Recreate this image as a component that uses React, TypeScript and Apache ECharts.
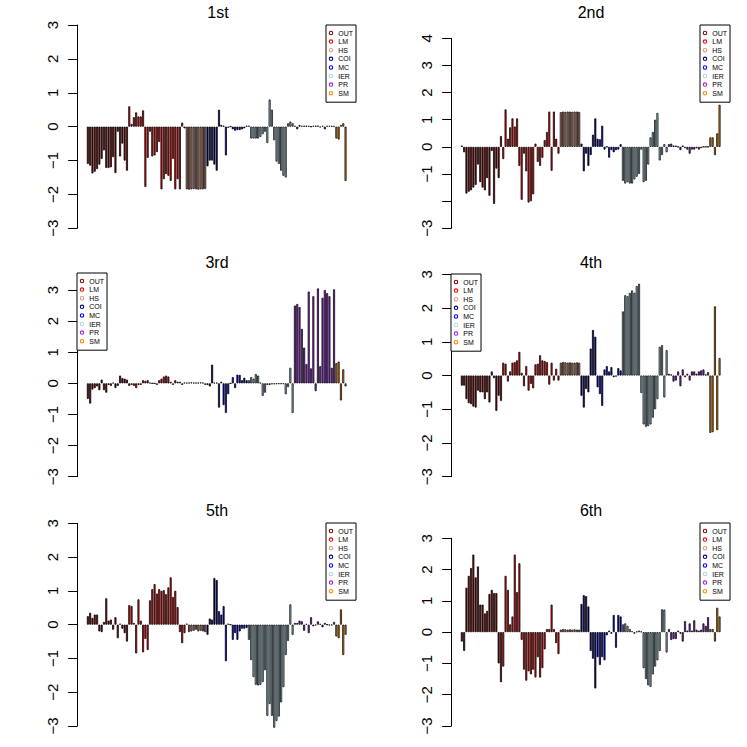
import React, { useEffect, useRef } from "react";
import * as echarts from "echarts";

const groupNames = ["OUT", "LM", "HS", "COI", "MC", "IER", "PR", "SM"];
const groupSizes = [18, 25, 9, 7, 11, 20, 18, 5];
const groupColors = ["#8B0000", "#FF0000", "#E9967A", "#00008B", "#0000FF", "#ADD8E6", "#A020F0", "#FF8C00"];
const panelTitles = ["1st", "2nd", "3rd", "4th", "5th", "6th"];
const panelMax = [3, 4, 3, 3, 3, 3];
const panelMin = [-3, -3, -3, -3, -3, -3];
const hiddenTicks: number[][] = [[], [-2], [], [], [], []];

const first = [
  // OUT
  -1.1, -1.15, -1.38, -1.33, -1.25, -1.12, -0.95, -0.7, -1.22, -1.22, -1.2, -0.9, -1.37, -0.15, -0.88, -0.5, -1.0, -1.3,
  // LM
  0.6, 0.08, 0.28, 0.42, 0.3, 0.3, 0.48, -1.78, -0.92, -0.15, -0.88, -0.85, -0.75, -0.45, -1.85, -1.55, -1.4, -1.45, -1.6, -0.95, -1.85, -1.55, -1.85, 0.12, -0.05,
  // HS
  -1.85, -1.86, -1.85, -1.84, -1.85, -1.86, -1.85, -1.85, -1.84,
  // COI
  -1.17, -1.0, -1.0, -1.12, -1.3, 0.5, 0.05,
  // MC
  0.03, -0.85, -0.03, 0.0, -0.08, -0.12, -0.1, -0.1, -0.08, -0.05, 0.03,
  // IER
  0.03, -0.35, -0.35, -0.35, -0.35, -0.3, -0.22, -0.15, -0.48, 0.8, 0.5, -0.4, -1.03, -1.1, -1.3, -1.45, -1.5, 0.1, 0.15, 0.1,
  // PR
  0.02, -0.08, 0.05, 0.02, 0.03, 0.03, 0.02, 0.0, 0.02, 0.03, 0.03, -0.02, 0.02, -0.08, 0.02, 0.02, 0.02, 0.02,
  // SM
  -0.35, -0.38, 0.05, 0.1, -1.6,
];

const second = [
  0.05, -0.2, -1.72, -1.65, -1.6, -1.5, -1.4, -0.65, -1.3, -1.5, -1.6, -1.15, -1.8, -0.15, -2.1, -0.8, -1.15, 0.4,
  -0.45, 1.38, 0.3, 0.72, 1.05, 0.75, 1.05, -0.7, -1.95, -0.25, -0.9, -2.05, -2.0, -1.75, 0.12, -0.55, -0.7, -0.4, 0.25, 0.55, 1.3, -0.88, 1.3, 0.3, -0.25,
  1.28, 1.3, 1.29, 1.3, 1.3, 1.29, 1.3, 1.3, 1.29,
  0.12, -0.9, -0.25, -0.7, -0.3, 0.45, 1.05,
  0.3, 0.28, 0.78, -0.1, 0.0, -0.4, -0.12, -0.2, -0.12, -0.1, 0.1,
  -1.25, -1.35, -1.3, -1.35, -1.35, -1.2, -1.1, -1.0, -0.1, -1.3, -1.25, -0.65, 0.35, 0.55, 1.0, 1.25, -0.5, -0.3, 0.1, -0.2,
  0.1, 0.12, 0.05, 0.05, 0.0, -0.12, 0.05, -0.05, -0.1, -0.25, -0.1, -0.1, -0.05, -0.1, -0.05, 0.0, 0.0, 0.0,
  0.35, 0.35, -0.3, 0.5, 1.55,
];

const third = [
  -0.5, -0.65, -0.2, -0.15, -0.1, -0.22, 0.12, -0.22, -0.3, -0.05, -0.08, 0.02, -0.15, -0.08, 0.25, 0.17, 0.15, 0.12,
  -0.08, -0.05, -0.08, -0.15, -0.05, -0.05, 0.1, 0.08, 0.1, 0.02, 0.0, 0.0, -0.05, 0.1, 0.15, 0.22, 0.25, 0.22, 0.05, -0.05, 0.1, 0.05, 0.05, -0.05, 0.02,
  0.02, 0.02, 0.03, 0.02, 0.02, 0.02, 0.03, 0.02, -0.05,
  -0.05, -0.1, 0.6, 0.02, 0.02, -0.78, 0.05,
  -0.7, -0.95, -0.35, 0.0, 0.2, -0.15, 0.28, 0.27, 0.1, 0.18, 0.1,
  0.1, 0.2, 0.15, 0.3, 0.25, 0.02, -0.4, -0.3, -0.05, -0.05, -0.03, -0.03, -0.02, -0.02, -0.02, -0.02, -0.35, -0.12, 0.5, -0.95,
  2.5, 2.55, 2.45, 1.75, 1.15, 0.62, 2.95, 0.48, 2.8, -0.25, 3.05, 0.55, 2.75, 3.0, 2.9, 2.8, 0.5, 3.02,
  0.65, 0.7, -0.55, 0.45, -0.1,
];

const fourth = [
  -0.3, -0.3, -0.7, -0.82, -0.85, -0.92, -0.95, -0.45, -0.5, -0.5, -0.7, -0.5, -0.8, 0.12, -0.08, -1.05, -0.6, -0.75,
  0.38, 0.35, -0.18, 0.12, 0.38, 0.4, 0.45, 0.7, 0.08, -0.32, 0.28, -0.45, -0.25, -0.38, 0.33, 0.35, 0.6, 0.45, 0.43, 0.4, -0.27, 0.38, -0.15, 0.2, -0.15,
  0.38, 0.4, 0.39, 0.38, 0.39, 0.38, 0.38, 0.39, 0.38,
  -0.6, -0.95, -0.4, -0.5, 0.8, 1.35, 1.15,
  -0.35, -0.55, -0.9, 0.18, 0.28, 0.12, 0.25, -0.05, -0.03, 0.22, 0.15,
  1.9, 2.38, 2.35, 2.45, 2.52, 2.45, 2.65, 2.72, -0.52, -1.45, -1.52, -1.5, -1.45, -1.25, -1.0, -0.7, 0.85, 0.9, -0.65, 0.75,
  0.05, 0.03, -0.18, -0.15, 0.12, -0.32, 0.18, -0.05, 0.05, -0.15, 0.12, 0.12, 0.05, 0.12, 0.15, 0.18, 0.03, 0.1,
  -1.7, -1.68, 2.05, -1.62, 0.52,
];

const fifth = [
  0.25, 0.35, 0.2, 0.3, 0.3, -0.2, -0.22, 0.08, 0.78, 0.12, 0.15, -0.15, 0.22, -0.4, 0.03, -0.12, -0.25, -0.5,
  0.58, 0.55, 0.05, -0.85, 0.75, 0.12, -0.82, -0.42, -0.75, 0.72, 1.05, 1.2, 0.92, 1.05, 1.0, 1.02, 0.9, 1.1, 1.4, 0.82, 1.0, 0.52, -0.22, -0.55, -0.25,
  0.03, -0.22, -0.2, -0.18, -0.15, -0.2, -0.18, -0.2, -0.22,
  -0.3, 0.18, 0.15, 1.38, 1.32, 0.4, 0.3,
  0.55, -1.08, 0.03, 0.0, -0.45, -0.25, -0.45, -0.2, -0.12, -0.12, -0.1,
  -0.45, -1.05, -1.55, -1.78, -1.8, -1.78, -1.7, -1.35, -2.7, -2.35, -2.7, -3.05, -2.85, -2.72, -2.3, -1.85, -0.9, -0.48, 0.6, -0.3,
  0.05, 0.05, 0.12, 0.1, -0.18, 0.02, -0.25, 0.22, -0.05, -0.02, 0.1, 0.02, -0.08, 0.05, 0.0, -0.02, -0.02, 0.08,
  -0.35, -0.4, 0.45, -0.9, -0.3,
];

const sixth = [
  -0.3, -0.6, 1.42, 1.8, 2.05, 2.48, 1.75, 2.1, 0.88, 0.88, 0.6, 0.68, 1.22, 1.35, 1.25, 1.25, -1.0, -1.6,
  -1.1, 1.8, 1.35, 0.25, 0.5, 2.48, 1.28, 2.2, -0.25, -1.2, -1.55, -1.25, -1.35, -1.2, -1.45, -0.8, -1.45, -1.15, -0.55, 0.1, 0.1, 0.88, 0.1, -0.35, -0.7,
  0.08, 0.1, 0.09, 0.08, 0.09, 0.08, 0.09, 0.08, 0.08,
  0.9, 1.18, 1.15, 0.82, -0.6, -0.85, -1.8,
  -0.8, -1.05, -0.8, -0.9, -0.1, 0.05, -0.05, 0.55, -0.5, 0.55, 0.5,
  0.25, 0.28, 0.2, 0.1, 0.03, -0.05, 0.02, 0.05, 0.02, -1.15, -1.5, -1.7, -1.75, -1.35, -1.1, -0.9, -0.6, 0.73, 0.72, -0.65,
  0.1, -0.25, -0.22, -0.22, 0.05, -0.05, -0.3, 0.35, 0.05, 0.28, 0.05, 0.38, 0.08, 0.05, 0.08, 0.28, 0.2, 0.48,
  0.1, 0.1, -0.3, 0.78, 0.5,
];

const panels = [first, second, third, fourth, fifth, sixth];

// layout (pixels)
const layout = [
  { gx: 86.7, gy: 25, gh: 203.3, tx: 218, ty: 13, lx: 326, ly: 25 },
  { gx: 460.7, gy: 38.3, gh: 190, tx: 591, ty: 13, lx: 700, ly: 25 },
  { gx: 86.7, gy: 290, gh: 186.7, tx: 217, ty: 262.5, lx: 77, ly: 273 },
  { gx: 460.7, gy: 274.3, gh: 202.4, tx: 591, ty: 262.5, lx: 451, ly: 274 },
  { gx: 86.7, gy: 523.3, gh: 202.7, tx: 217, ty: 511, lx: 326, ly: 523 },
  { gx: 460.7, gy: 538.3, gh: 187.7, tx: 591, ty: 511, lx: 700, ly: 523 },
];

const ring = "path://M5,0A5,5,0,1,1,5,10A5,5,0,1,1,5,0ZM5,2.4A2.6,2.6,0,1,0,5,7.6A2.6,2.6,0,1,0,5,2.4Z";
const FONT = "'Liberation Sans', Arial, Helvetica, sans-serif";

export default function App() {
  const ref = useRef<HTMLDivElement>(null);
  useEffect(() => {
    if (!ref.current) return;
    const chart = echarts.init(ref.current, undefined, { renderer: "svg" });
    const n = groupSizes.reduce((a, b) => a + b, 0);
    const cats = Array.from({ length: n }, (_, i) => String(i + 1));
    const starts: number[] = [];
    groupSizes.reduce((acc, s) => { starts.push(acc); return acc + s; }, 0);

    const grid: any[] = [];
    const xAxis: any[] = [];
    const yAxis: any[] = [];
    const title: any[] = [];
    const legend: any[] = [];
    const series: any[] = [];

    panels.forEach((vals, p) => {
      const L = layout[p];
      grid.push({ left: L.gx, top: L.gy, width: 260, height: L.gh, containLabel: false });
      xAxis.push({ type: "category", gridIndex: p, data: cats, show: false, boundaryGap: true });
      yAxis.push({
        type: "value", gridIndex: p, min: panelMin[p], max: panelMax[p], interval: 1, offset: 9.5,
        splitLine: { show: false },
        axisLine: { show: true, lineStyle: { color: "#000", width: 1 } },
        axisTick: { show: true, length: 9, lineStyle: { color: "#000", width: 1 } },
        axisLabel: {
          rotate: 90, margin: 17, fontSize: 15, lineHeight: 15, color: "#000", fontFamily: FONT,
          formatter: (v: number) => (hiddenTicks[p].includes(v) ? "" : v < 0 ? "\u2212" + Math.abs(v) : String(v)),
        },
      });
      title.push({
        text: panelTitles[p], left: L.tx, top: L.ty - 8.5, textAlign: "center", padding: 0,
        textStyle: { fontSize: 16, fontWeight: "normal", color: "#000", fontFamily: FONT, lineHeight: 16 },
      });
      legend.push({
        orient: "vertical", left: L.lx, top: L.ly, padding: [4, 3, 5, 2.75],
        itemWidth: 4.5, itemHeight: 4.5, itemGap: 0.6, icon: ring, selectedMode: false,
        itemStyle: { borderWidth: 0 },
        borderColor: "#000", borderWidth: 1, backgroundColor: "#fff",
        textStyle: { fontSize: 7, lineHeight: 8, color: "#000", fontFamily: FONT, padding: 0 },
        data: groupNames.map((g, gi) => ({ name: g, itemStyle: { color: groupColors[gi], borderWidth: 0 } })),
      });
      groupNames.forEach((g, gi) => {
        const s = starts[gi];
        const e = s + groupSizes[gi];
        series.push({
          type: "bar", name: g, xAxisIndex: p, yAxisIndex: p,
          data: vals.map((v, i) => (i >= s && i < e ? v : "-")),
          barGap: "-100%", barCategoryGap: "14%", clip: false, silent: true,
          itemStyle: { color: groupColors[gi], borderColor: "#000", borderWidth: 0.75 },
        });
      });
    });

    chart.setOption({
      animation: false,
      backgroundColor: "#fff",
      textStyle: { fontFamily: FONT },
      title, legend, grid, xAxis, yAxis, series,
    });
    return () => chart.dispose();
  }, []);
  return <div ref={ref} style={{ position: "absolute", left: 0, top: 0, width: 747, height: 747 }} />;
}
